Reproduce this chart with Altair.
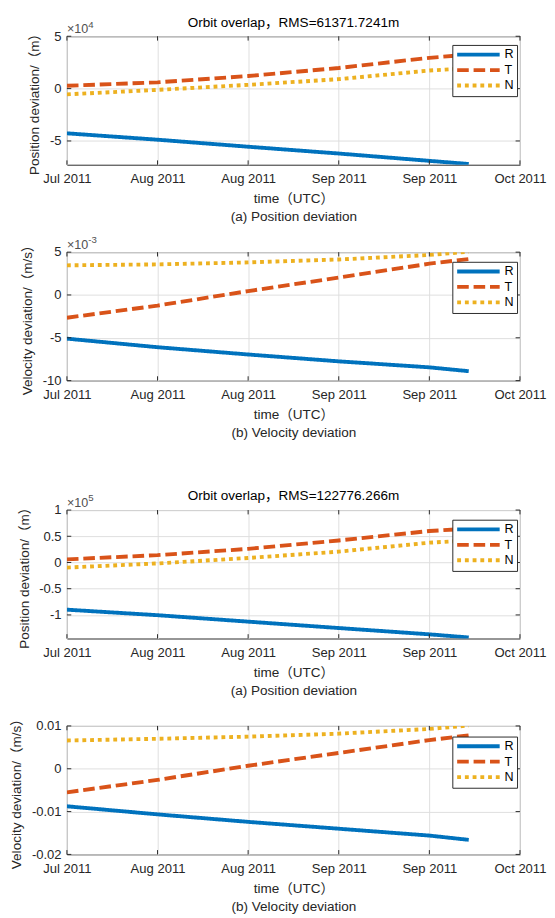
import json
import altair as alt
import pandas as pd

# ---------------- data ----------------
DAYS = [0, 18.4, 36.8, 55.2, 73.6, 81.6]          # days since 1 Jul 2011
X_TICKS = [0, 18.4, 36.8, 55.2, 73.6, 92]
X_LABELS = ["Jul 2011", "Aug 2011", "Aug 2011", "Sep 2011", "Sep 2011", "Oct 2011"]
SERIES = ["R", "T", "N"]
COLORS = ["#0072BD", "#D95319", "#EDB120"]
DASHES = [[1, 0], [12, 5], [4, 4]]

# panel 1: position deviation (m)
POS1_R = [-42700, -48800, -55500, -62000, -69000, -72000]
POS1_T = [2700, 6000, 12000, 19700, 29400, 32500]
POS1_N = [-5500, -1200, 3600, 9000, 17300, 19400]
POS1_TICKS = [-50000, 0, 50000]
POS1_LABELS = ["-5", "0", "5"]

# panel 2: velocity deviation (m/s)
VEL1_R = [-0.00510, -0.00610, -0.00695, -0.00775, -0.00845, -0.00890]
VEL1_T = [-0.00266, -0.00124, 0.00045, 0.00203, 0.00365, 0.00420]
VEL1_N = [0.00346, 0.00357, 0.00380, 0.00414, 0.00467, 0.00505]
VEL1_TICKS = [-0.01, -0.005, 0, 0.005]
VEL1_LABELS = ["-10", "-5", "0", "5"]

# panel 3: position deviation (m)
POS2_R = [-90000, -100500, -112800, -125000, -137000, -143000]
POS2_T = [6000, 14000, 26000, 42000, 60000, 64500]
POS2_N = [-9700, -1800, 8600, 20700, 37800, 42000]
POS2_TICKS = [-100000, -50000, 0, 50000, 100000]
POS2_LABELS = ["-1", "-0.5", "0", "0.5", "1"]

# panel 4: velocity deviation (m/s)
VEL2_R = [-0.00876, -0.01065, -0.0124, -0.0140, -0.0156, -0.0166]
VEL2_T = [-0.0055, -0.0026, 0.0007, 0.0037, 0.0067, 0.0078]
VEL2_N = [0.0066, 0.0070, 0.0075, 0.0082, 0.0093, 0.0101]
VEL2_TICKS = [-0.02, -0.01, 0, 0.01]
VEL2_LABELS = ["-0.02", "-0.01", "0", "0.01"]

W, H = 469, 133
FONT = "Liberation Sans, Arial, Noto Sans CJK SC"
INK = "#262626"


def panel(r, t, n, yticks, ylabels, ydomain, ytitle, caption, exponent,
          title=None, legend_y=9):
    rows = []
    for name, vals in zip(SERIES, [r, t, n]):
        for d, v in zip(DAYS, vals):
            rows.append({"day": d, "value": v, "series": name})
    df = pd.DataFrame(rows)

    x_enc = alt.X(
        "day:Q",
        scale=alt.Scale(domain=[0, 92], nice=False, zero=False),
        axis=alt.Axis(
            values=X_TICKS,
            labelExpr=f"{json.dumps(X_LABELS)}[indexof({json.dumps(X_TICKS)}, datum.value)]",
            title=["time（UTC）", caption],
            titleLineHeight=19,
            titlePadding=7,
            labelPadding=7.5,
            labelFlush=False,
            ticks=False,
            tickSize=0,
            domain=False,
            grid=True,
        ),
    )
    y_enc = alt.Y(
        "value:Q",
        scale=alt.Scale(domain=ydomain, nice=False, zero=False),
        axis=alt.Axis(
            values=yticks,
            labelExpr=f"{json.dumps(ylabels)}[indexof({json.dumps(yticks)}, datum.value)]",
            title=ytitle,
            titlePadding=8,
            labelPadding=6,
            ticks=False,
            tickSize=0,
            domain=False,
            grid=True,
        ),
    )
    leg = alt.Legend(
        orient="none", legendX=W - 12 - 67 + 9, legendY=legend_y, title=None,
        symbolType="M-1,0H7.8", symbolSize=100, symbolStrokeWidth=4,
        labelOffset=37, padding=3, rowPadding=0,
        strokeColor=INK, fillColor="white", labelFontSize=13,
        labelFont=FONT, labelColor="#000000",
    )
    lines = alt.Chart(df).mark_line(strokeWidth=4, strokeCap="butt", clip=True).encode(
        x=x_enc,
        y=y_enc,
        color=alt.Color("series:N", scale=alt.Scale(domain=SERIES, range=COLORS), legend=leg),
        strokeDash=alt.StrokeDash("series:N", scale=alt.Scale(domain=SERIES, range=DASHES), legend=leg),
        order=alt.Order("day:Q"),
    )

    xt = pd.DataFrame({"day": X_TICKS})
    yt = pd.DataFrame({"value": yticks})
    tick_x_bot = alt.Chart(xt).mark_rule(color=INK, strokeWidth=1).encode(
        x=x_enc, y=alt.value(H), y2=alt.value(H - 4.5))
    tick_x_top = alt.Chart(xt).mark_rule(color=INK, strokeWidth=1).encode(
        x=x_enc, y=alt.value(0), y2=alt.value(4.5))
    tick_y_l = alt.Chart(yt).mark_rule(color=INK, strokeWidth=1).encode(
        y=y_enc, x=alt.value(0), x2=alt.value(4.5))
    tick_y_r = alt.Chart(yt).mark_rule(color=INK, strokeWidth=1).encode(
        y=y_enc, x=alt.value(W - 4.5), x2=alt.value(W))

    layers = [lines, tick_x_bot, tick_x_top, tick_y_l, tick_y_r]
    # exponent label (kept invisible where the axis has no multiplier, to keep spacing)
    base = alt.Chart(pd.DataFrame({"e": ["×10"]})).mark_text(
        align="left", baseline="alphabetic", fontSize=13, font=FONT, color="#505050",
        opacity=1 if exponent else 0,
    ).encode(text="e:N", x=alt.value(0), y=alt.value(-3))
    sup = alt.Chart(pd.DataFrame({"e": [exponent or "0"]})).mark_text(
        align="left", baseline="alphabetic", fontSize=10, font=FONT, color="#505050",
        opacity=1 if exponent else 0,
    ).encode(text="e:N", x=alt.value(22), y=alt.value(-9))
    layers += [base, sup]
    if title:
        ttl = alt.Chart(pd.DataFrame({"t": [title]})).mark_text(
            align="center", baseline="alphabetic", fontSize=14, font=FONT, color="#000000"
        ).encode(text="t:N", x=alt.value(W / 2), y=alt.value(-10))
        layers.append(ttl)

    return alt.layer(*layers).properties(width=W, height=H)


p1 = panel(POS1_R, POS1_T, POS1_N, POS1_TICKS, POS1_LABELS, [-72700, 50000],
           "Position deviation/（m）", "(a) Position deviation", "4",
           title="Orbit overlap，RMS=61371.7241m", legend_y=9)
p2 = panel(VEL1_R, VEL1_T, VEL1_N, VEL1_TICKS, VEL1_LABELS, [-0.01, 0.005],
           "Velocity deviation/（m/s）", "(b) Velocity deviation", "-3", legend_y=10)
p3 = panel(POS2_R, POS2_T, POS2_N, POS2_TICKS, POS2_LABELS, [-145000, 100000],
           "Position deviation/（m）", "(a) Position deviation", "5",
           title="Orbit overlap，RMS=122776.266m", legend_y=10)
p4 = panel(VEL2_R, VEL2_T, VEL2_N, VEL2_TICKS, VEL2_LABELS, [-0.02, 0.01],
           "Velocity deviation/（m/s）", "(b) Velocity deviation", None, legend_y=11)

spacer = alt.Chart(pd.DataFrame({"s": [0]})).mark_point(opacity=0).encode(
    x=alt.value(0), y=alt.value(0)
).properties(width=W, height=26, view=alt.ViewBackground(stroke=None))

chart = alt.vconcat(p1, p2, spacer, p3, p4, spacing=10.5).resolve_scale(
    x="independent", y="independent", color="independent", strokeDash="independent"
).resolve_legend(color="independent", strokeDash="independent").properties(
    padding={"left": 1, "top": -9, "right": 0, "bottom": 0}
).configure(background="white").configure_view(
    stroke=INK, strokeWidth=1
).configure_axis(
    labelFont=FONT, labelFontSize=13.5, labelColor=INK,
    titleFont=FONT, titleFontSize=14, titleFontWeight="normal", titleColor=INK,
    gridColor="#dedede", gridWidth=1,
)

chart.save("out.html", embed_options={"renderer": "svg", "actions": False})
